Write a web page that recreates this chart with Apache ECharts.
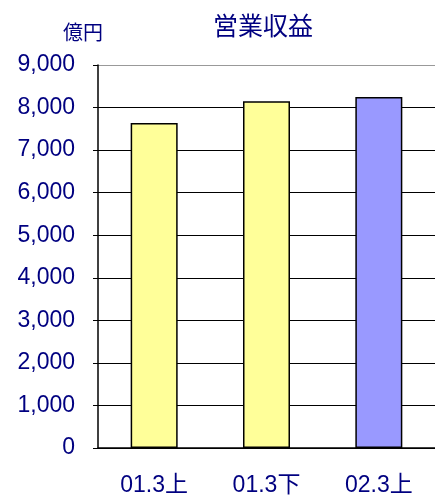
<!DOCTYPE html>
<html>
<head>
<meta charset="utf-8">
<script src="https://cdn.jsdelivr.net/npm/echarts@6/dist/echarts.min.js"></script>
<style>
  html, body { margin: 0; padding: 0; background: #fff; }
  #main { width: 435px; height: 497px; }
</style>
</head>
<body>
<div id="main"></div>
<script>
var categories = ['01.3上', '01.3下', '02.3上'];
var values = [7640, 8150, 8250];
var barColors = ['#FFFF99', '#FFFF99', '#9999FF'];

var navy = '#000080';
var font = '"Liberation Sans", Arial, "Noto Sans CJK JP", sans-serif';

var myChart = echarts.init(document.getElementById('main'));

var gridColors = ['#000', '#000', '#000', '#000', '#000', '#000', '#000', '#000', '#000', '#999'];

var option = {
  animation: false,
  title: {
    text: '営業収益',
    left: 208,
    top: 8,
    textStyle: { color: navy, fontSize: 25, fontWeight: 'normal', fontFamily: '"Noto Sans CJK JP", sans-serif' }
  },
  graphic: [{
    type: 'text',
    left: 63,
    top: 22,
    style: { text: '億円', fill: navy, font: '20px "Noto Sans CJK JP", sans-serif' }
  }],
  grid: { left: 98, top: 65, width: 339, height: 384, containLabel: false },
  xAxis: {
    type: 'category',
    data: categories,
    axisLine: { lineStyle: { color: '#000', width: 1.5 } },
    axisTick: { inside: true, length: 8, lineStyle: { color: '#000' } },
    axisLabel: { color: navy, fontSize: 23, margin: 26, fontFamily: font }
  },
  yAxis: {
    type: 'value',
    min: 0,
    max: 9000,
    interval: 1000,
    axisLine: { show: true, lineStyle: { color: '#000', width: 1.5 } },
    axisTick: { show: true, length: 5, lineStyle: { color: '#000' } },
    splitLine: { lineStyle: { color: gridColors, width: 1 } },
    axisLabel: {
      color: navy, fontSize: 23, margin: 23, fontFamily: font,
      formatter: function (v) { return v.toString().replace(/\B(?=(\d{3})+(?!\d))/g, ','); }
    }
  },
  series: [{
    type: 'bar',
    barWidth: 47,
    data: values.map(function (v, i) {
      return { value: v, itemStyle: { color: barColors[i] } };
    }),
    itemStyle: { borderColor: '#000', borderWidth: 1.5 }
  }]
};

myChart.setOption(option);
</script>
</body>
</html>
